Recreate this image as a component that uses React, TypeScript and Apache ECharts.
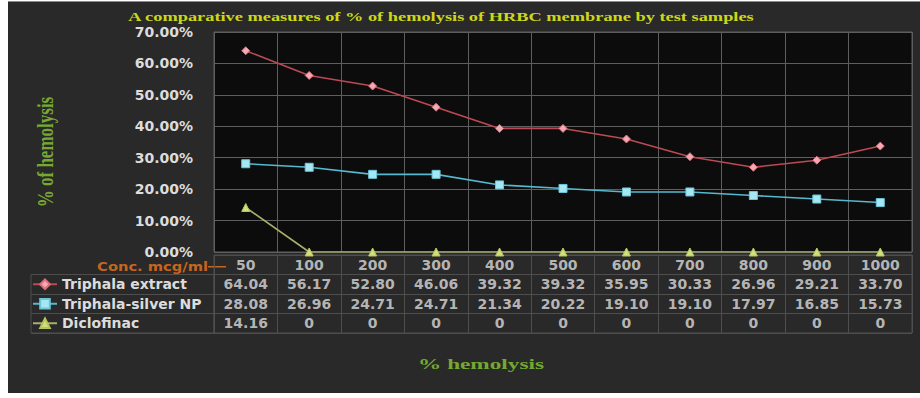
import React, { useEffect, useRef } from "react";
import * as echarts from "echarts";

const categories = ["50", "100", "200", "300", "400", "500", "600", "700", "800", "900", "1000"];
const triphalaExtract = [64.04, 56.17, 52.8, 46.06, 39.32, 39.32, 35.95, 30.33, 26.96, 29.21, 33.7];
const triphalaSilverNP = [28.08, 26.96, 24.71, 24.71, 21.34, 20.22, 19.1, 19.1, 17.97, 16.85, 15.73];
const diclofinac = [14.16, 0, 0, 0, 0, 0, 0, 0, 0, 0, 0];
const seriesNames = ["Triphala extract", "Triphala-silver NP", "Diclofinac"];
const yMin = 0;
const yMax = 70;
const yInterval = 10;
const titleText = "A comparative measures of % of hemolysis of HRBC membrane by test samples";
const yTitle = "% of hemolysis";
const xTitle = "% hemolysis";
const concLabel = "Conc. mcg/ml";

const FONT = "DejaVu Sans";
const SERIF = "Liberation Serif";

function fmt(v: number) {
  return v === 0 ? "0" : v.toFixed(2);
}

export default function App() {
  const ref = useRef<HTMLDivElement>(null);
  useEffect(() => {
    document.body.style.margin = "0";
    const chart = echarts.init(ref.current!, null, { renderer: "svg" });
    const valuesList = [triphalaExtract, triphalaSilverNP, diclofinac];
    const rowKeys = ["hdr", ...seriesNames];
    const tableData: any[] = [];
    categories.forEach((c) => tableData.push([c, "hdr", c]));
    valuesList.forEach((vals, si) =>
      vals.forEach((v, i) => tableData.push([categories[i], seriesNames[si], fmt(v)]))
    );

    const rowTop = 255;
    const rowH = 19.5;
    const styles = [
      { symbol: "diamond", size: 8, line: "#bb4a55", fill: "#f6a9b2", border: "#d9707c" },
      { symbol: "rect", size: 8, line: "#56b9cf", fill: "#a6e8f2", border: "#6cc6da" },
      { symbol: "triangle", size: 8, line: "#a9ae6c", fill: "#d2e07c", border: "#b7c45e" },
    ];
    const textCol = "#dcdcdc";

    const option: any = {
      animation: false,
      backgroundColor: "transparent",
      grid: [
        { left: 214, top: 32, width: 698, height: 220, show: true, backgroundColor: "#0c0c0c", borderColor: "#5e5e5e", borderWidth: 1 },
        { left: 214, top: rowTop, width: 698, height: rowH * 4, show: true, borderColor: "#4e4e4e", borderWidth: 1 },
        { left: 31, top: rowTop + rowH, width: 183, height: rowH * 3, show: true, borderColor: "#4e4e4e", borderWidth: 1 },
      ],
      xAxis: [
        {
          gridIndex: 0, type: "category", data: categories, boundaryGap: true,
          axisLine: { show: false }, axisTick: { show: false }, axisLabel: { show: false },
          splitLine: { show: true, interval: 0, lineStyle: { color: "#5e5e5e", width: 1 } },
        },
        {
          gridIndex: 1, type: "category", data: categories, boundaryGap: true,
          axisLine: { show: false }, axisTick: { show: false }, axisLabel: { show: false },
          splitLine: { show: true, interval: 0, lineStyle: { color: "#4e4e4e", width: 1 } },
        },
        {
          gridIndex: 2, type: "value", show: false,
        },
      ],
      yAxis: [
        {
          gridIndex: 0, type: "value", min: yMin, max: yMax, interval: yInterval,
          axisLine: { show: false }, axisTick: { show: false },
          axisLabel: {
            formatter: (v: number) => v.toFixed(2) + "%", color: textCol, fontSize: 14,
            fontWeight: "bold", fontFamily: FONT, margin: 21, lineHeight: 14,
          },
          splitLine: { show: true, lineStyle: { color: "#5e5e5e", width: 1 } },
        },
        {
          gridIndex: 1, type: "category", data: rowKeys, inverse: true, boundaryGap: true,
          axisLine: { show: false }, axisTick: { show: false }, axisLabel: { show: false },
          splitLine: { show: true, interval: 0, lineStyle: { color: "#4e4e4e", width: 1 } },
        },
        {
          gridIndex: 2, type: "category", data: seriesNames, inverse: true, boundaryGap: true,
          axisLine: { show: false }, axisTick: { show: false }, axisLabel: { show: false },
          splitLine: { show: true, interval: 0, lineStyle: { color: "#4e4e4e", width: 1 } },
        },
      ],
      legend: seriesNames.map((n, i) => ({
        data: [n], orient: "horizontal", left: 32, top: rowTop + rowH * (i + 1) + rowH / 2 - 7,
        padding: 0, itemWidth: 24, itemHeight: 12,
        textStyle: { color: textCol, fontSize: 14, fontFamily: FONT, fontWeight: "bold", lineHeight: 14 },
      })),
      series: [
        ...valuesList.map((vals, i) => ({
          type: "line", name: seriesNames[i], data: vals, xAxisIndex: 0, yAxisIndex: 0,
          symbol: styles[i].symbol, symbolSize: styles[i].size, showAllSymbol: true,
          lineStyle: { color: styles[i].line, width: 1.6 },
          itemStyle: { color: styles[i].fill, borderColor: styles[i].border, borderWidth: 1 },
          z: 5 - i,
        })),
        {
          type: "scatter", xAxisIndex: 1, yAxisIndex: 1, data: tableData, symbolSize: 0, silent: true,
          label: {
            show: true, position: "inside", formatter: (p: any) => p.value[2],
            color: textCol, fontSize: 14, fontWeight: "bold", fontFamily: FONT,
          },
        },
      ],
      graphic: [
        {
          type: "text", x: 441, y: 17, scaleX: 1.53,
          style: {
            text: titleText, x: 0, y: 0, fill: "#cdd81a", font: `bold 12px "${SERIF}"`,
            align: "center", verticalAlign: "middle", textAlign: "center", textVerticalAlign: "middle",
          },
        },
        {
          type: "text", x: 45, y: 152, rotation: Math.PI / 2, scaleY: 1.3,
          style: {
            text: yTitle, x: 0, y: 0, fill: "#78a832", font: `bold 17px "${SERIF}"`,
            align: "center", verticalAlign: "middle", textAlign: "center", textVerticalAlign: "middle",
          },
        },
        {
          type: "text", x: 481, y: 364, scaleX: 1.55,
          style: {
            text: xTitle, x: 0, y: 0, fill: "#74a830", font: `bold 15px "${SERIF}"`,
            align: "center", verticalAlign: "middle", textAlign: "center", textVerticalAlign: "middle",
          },
        },
        {
          type: "text", x: 208, y: rowTop + rowH / 2 + 1.5, scaleX: 1.13,
          style: {
            text: concLabel, x: 0, y: 0, fill: "#c9641c", font: `bold 13px "${FONT}"`, lineHeight: 13,
            align: "right", verticalAlign: "middle", textAlign: "right", textVerticalAlign: "middle",
          },
        },
        {
          type: "line", shape: { x1: 208, y1: rowTop + rowH / 2 + 2, x2: 226, y2: rowTop + rowH / 2 + 2 },
          style: { stroke: "#c9641c", lineWidth: 1.5 },
        },
      ],
    };
    chart.setOption(option);
    return () => chart.dispose();
  }, []);
  return (
    <div style={{ position: "relative", width: 920, height: 398, background: "#fff" }}>
      <div style={{ position: "absolute", left: 8, top: 1, width: 912, height: 392, background: "#292929", borderTop: "1px solid #8a8a8a", boxSizing: "border-box" }} />
      <div ref={ref} style={{ position: "absolute", left: 0, top: 0, width: 920, height: 398 }} />
    </div>
  );
}
